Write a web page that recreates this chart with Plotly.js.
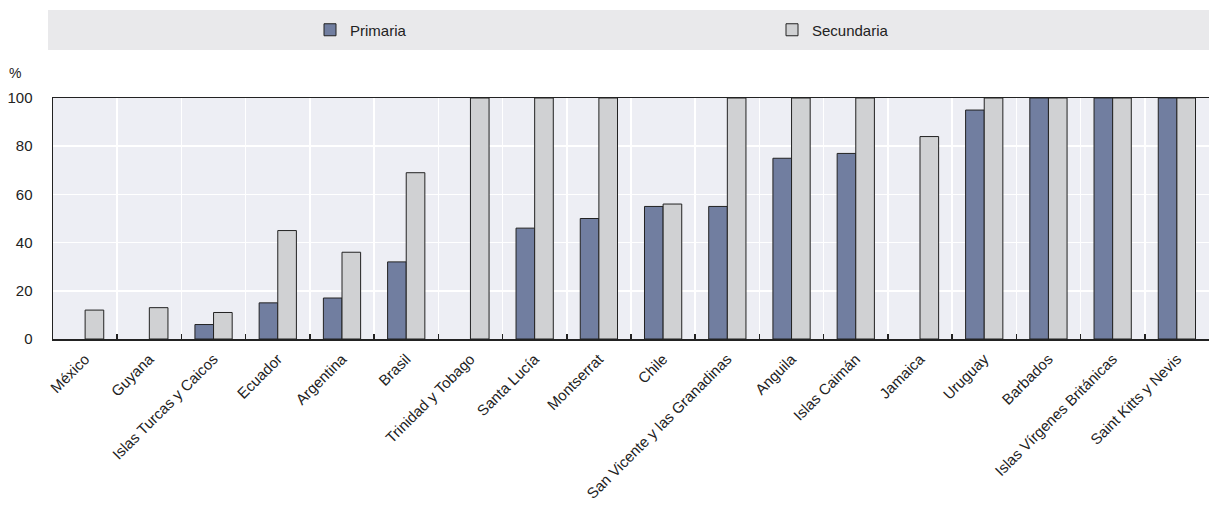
<!DOCTYPE html>
<html>
<head>
<meta charset="utf-8">
<script src="https://cdn.plot.ly/plotly-3.0.1.min.js"></script>
<style>html,body{margin:0;padding:0;background:#fff;}#chart{width:1209px;height:505px;}</style>
</head>
<body>
<div id="chart"></div>
<script>
const categories = ["México","Guyana","Islas Turcas y Caicos","Ecuador","Argentina","Brasil","Trinidad y Tobago","Santa Lucía","Montserrat","Chile","San Vicente y las Granadinas","Anguila","Islas Caimán","Jamaica","Uruguay","Barbados","Islas Vírgenes Británicas","Saint Kitts y Nevis"];
const primaria = [null,null,6,15,17,32,null,46,50,55,55,75,77,null,95,100,100,100];
const secundaria = [12,13,11,45,36,69,100,100,100,56,100,100,100,84,100,100,100,100];
const yTicks = [0,20,40,60,80,100];

const font = {family: "Liberation Sans, Arial, sans-serif", color: "#222", size: 14};

const traces = [
  {type: "bar", name: "Primaria", x: categories, y: primaria, legend: "legend",
   marker: {color: "#717EA0", line: {color: "#222", width: 1}}},
  {type: "bar", name: "Secundaria", x: categories, y: secundaria, legend: "legend2",
   marker: {color: "#D0D1D3", line: {color: "#222", width: 1}}}
];

const legendBase = {orientation: "h", xanchor: "left", y: (339-30)/241, yanchor: "middle",
  bgcolor: "rgba(0,0,0,0)", font: {family: font.family, size: 15, color: "#222"}};

const layout = {
  width: 1209, height: 505,
  margin: {l: 53, r: 0, t: 98, b: 166},
  paper_bgcolor: "#fff",
  plot_bgcolor: "#EDEEF4",
  font: font,
  barmode: "group",
  bargap: 0.42,
  bargroupgap: 0,
  showlegend: true,
  legend: Object.assign({}, legendBase, {x: (310-53)/1156}),
  legend2: Object.assign({}, legendBase, {x: (772-53)/1156}),
  xaxis: {type: "category", tickson: "boundaries", ticks: "inside", ticklen: 5, tickcolor: "#222", tickwidth: 1.5,
          showgrid: true, gridcolor: "#fff", gridwidth: 1.5,
          showline: true, linecolor: "#222", linewidth: 1.5, mirror: true,
          tickangle: -45, tickfont: {size: 15}, ticklabelstandoff: 4, automargin: false},
  yaxis: {range: [0, 100], tickvals: yTicks, ticktext: yTicks.map(String),
          showgrid: true, gridcolor: "#fff", gridwidth: 1.5, zeroline: false,
          showline: true, linecolor: "#222", linewidth: 1.5, ticks: "",
          ticklabelstandoff: 16, tickfont: {size: 15}, automargin: false},
  shapes: [{type: "rect", xref: "paper", yref: "paper",
            x0: (48-53)/1156, x1: 1, y0: (339-50)/241, y1: (339-10)/241,
            fillcolor: "#E9E9EB", line: {width: 0}, layer: "below"}],
  annotations: [{text: "%", xref: "paper", yref: "paper", x: (15-53)/1156, y: (339-73)/241,
                 xanchor: "center", yanchor: "middle", showarrow: false, font: {size: 14, color: "#222"}}]
};

Plotly.newPlot("chart", traces, layout, {displayModeBar: false, staticPlot: true});
</script>
</body>
</html>
